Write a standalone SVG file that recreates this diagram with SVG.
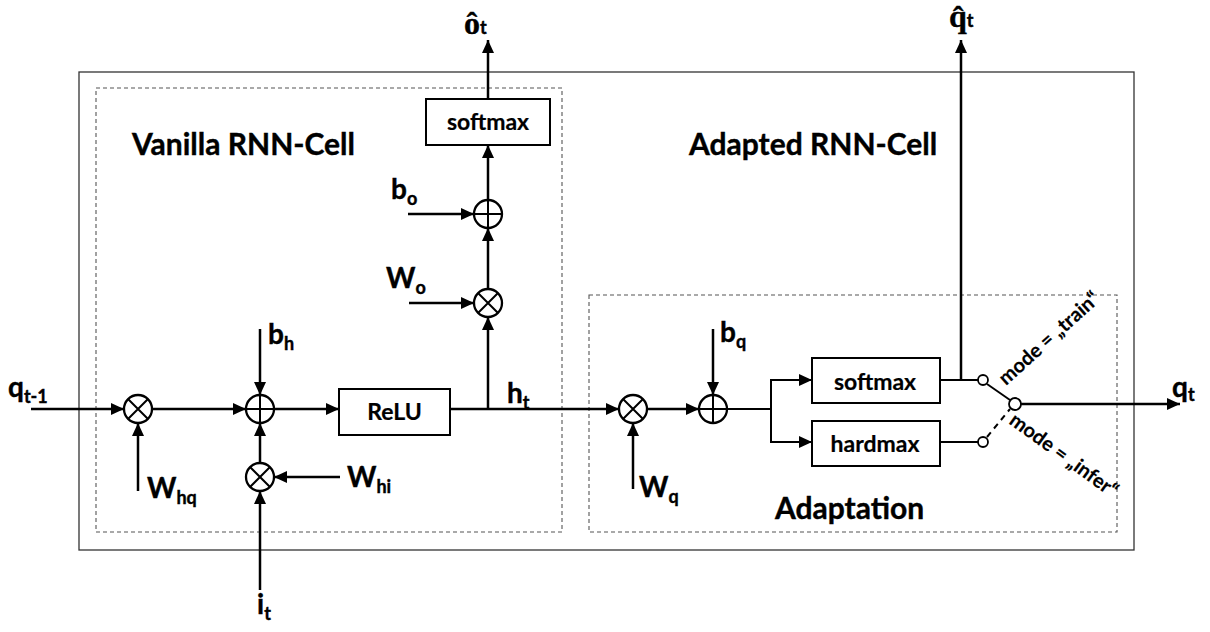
<svg xmlns="http://www.w3.org/2000/svg" width="1210" height="632" viewBox="0 0 1210 632">
<style>
.frame{fill:none;stroke:#333;stroke-width:1.3}
.dash{fill:none;stroke:#555;stroke-width:1.1;stroke-dasharray:4 3}
.box{fill:#fff;stroke:#000;stroke-width:2}
.op{fill:#fff;stroke:#000;stroke-width:2.3}
.c{fill:none;stroke:#000;stroke-width:2.5}
.arr{marker-end:url(#ah)}
.thin{fill:none;stroke:#000;stroke-width:2}
.sw{fill:#fff;stroke:#000;stroke-width:1.8}
text{font-family:Lato,"Liberation Sans",sans-serif;font-weight:bold;fill:#000;stroke:#000;stroke-width:0.4}
.lbl{font-size:28px}
.sub{font-size:18px}
.title{font-size:30px}
.bt{font-size:23px;text-anchor:middle;stroke-width:0.2}
.mode{font-size:20px;stroke-width:0.2}
.hat{font-family:"Liberation Serif","DejaVu Serif",serif;font-size:32px}
.hs{font-family:Lato,sans-serif;font-size:18px}
</style>
<defs>
<marker id="ah" markerWidth="14" markerHeight="12" refX="13" refY="6" orient="auto" markerUnits="userSpaceOnUse">
<path d="M0,0 L13,6 L0,12 Z" fill="#000"/>
</marker>
</defs>

<g id="frames">
<rect class="frame" x="79" y="72" width="1055" height="478"/>
<rect class="dash" x="96" y="88" width="466" height="444"/>
<rect class="dash" x="589" y="295" width="528" height="237"/>
</g>

<g id="titles">
<text class="title" x="132" y="155">Vanilla RNN-Cell</text>
<text class="title" x="689" y="155">Adapted RNN-Cell</text>
<text class="title" x="775" y="519">Adaptation</text>
</g>

<g id="connectors">
<line class="c arr" x1="31" y1="409" x2="124" y2="409"/>
<line class="c arr" x1="152" y1="409" x2="246" y2="409"/>
<line class="c arr" x1="138" y1="491" x2="138" y2="423"/>
<line class="c arr" x1="260" y1="329" x2="260" y2="395"/>
<line class="c arr" x1="260" y1="463" x2="260" y2="423"/>
<line class="c arr" x1="340" y1="477" x2="274" y2="477"/>
<line class="c arr" x1="260" y1="590" x2="260" y2="491"/>
<line class="c arr" x1="274" y1="409" x2="339" y2="409"/>
<line class="c arr" x1="450" y1="409" x2="619" y2="409"/>
<line class="c arr" x1="488" y1="409" x2="488" y2="317"/>
<line class="c arr" x1="409" y1="303" x2="474" y2="303"/>
<line class="c arr" x1="488" y1="289" x2="488" y2="228"/>
<line class="c arr" x1="408" y1="214" x2="474" y2="214"/>
<line class="c arr" x1="488" y1="200" x2="488" y2="145"/>
<line class="c arr" x1="488" y1="99" x2="488" y2="40"/>
<line class="c arr" x1="633" y1="489" x2="633" y2="423"/>
<line class="c arr" x1="647" y1="409" x2="699" y2="409"/>
<line class="c arr" x1="713" y1="329" x2="713" y2="395"/>
<polyline class="thin" points="727,409 771,409"/>
<polyline class="thin" points="771,380 771,442"/>
<line class="thin arr" x1="770" y1="380" x2="812" y2="380"/>
<line class="thin arr" x1="770" y1="442" x2="812" y2="442"/>
<line class="thin" x1="940" y1="380" x2="978" y2="380"/>
<line class="c arr" x1="961" y1="380" x2="961" y2="40"/>
<line class="thin" x1="940" y1="442" x2="978" y2="442"/>
<line class="thin" x1="987" y1="384" x2="1010" y2="400"/>
<line class="thin" x1="987" y1="437" x2="1010" y2="409" stroke-dasharray="6 5"/>
<line class="c arr" x1="1021" y1="404" x2="1180" y2="404"/>
</g>

<g id="mul_hq">
<circle class="op" cx="138" cy="409" r="14"/>
<path class="thin" d="M128,399 L148,419 M148,399 L128,419"/>
</g>
<g id="add_h">
<circle class="op" cx="260" cy="409" r="14"/>
<path class="thin" d="M246,409 H274 M260,395 V423"/>
</g>
<g id="mul_hi">
<circle class="op" cx="260" cy="477" r="14"/>
<path class="thin" d="M250,467 L270,487 M270,467 L250,487"/>
</g>
<g id="relu">
<rect class="box" x="339" y="389" width="111" height="46"/>
<text class="bt" x="394.5" y="420">ReLU</text>
</g>
<g id="mul_o">
<circle class="op" cx="488" cy="303" r="14"/>
<path class="thin" d="M478,293 L498,313 M498,293 L478,313"/>
</g>
<g id="add_o">
<circle class="op" cx="488" cy="214" r="14"/>
<path class="thin" d="M474,214 H502 M488,200 V228"/>
</g>
<g id="softmax_o">
<rect class="box" x="426" y="99" width="124" height="46"/>
<text class="bt" x="488" y="130">softmax</text>
</g>
<g id="mul_q">
<circle class="op" cx="633" cy="409" r="14"/>
<path class="thin" d="M623,399 L643,419 M643,399 L623,419"/>
</g>
<g id="add_q">
<circle class="op" cx="713" cy="409" r="14"/>
<path class="thin" d="M699,409 H727 M713,395 V423"/>
</g>
<g id="softmax_q">
<rect class="box" x="812" y="358" width="128" height="45"/>
<text class="bt" x="875" y="390">softmax</text>
</g>
<g id="hardmax_q">
<rect class="box" x="812" y="421" width="128" height="45"/>
<text class="bt" x="875" y="452">hardmax</text>
</g>
<g id="switch">
<circle class="sw" cx="983" cy="380" r="5"/>
<circle class="sw" cx="983" cy="442" r="5"/>
<circle class="sw" cx="1015" cy="404" r="6"/>
<text class="mode" transform="translate(1006,386) rotate(-42)">mode = „train“</text>
<text class="mode" transform="translate(1008,423) rotate(36)">mode = „infer“</text>
</g>

<g id="labels">
<text class="lbl" x="8" y="397">q<tspan class="sub" dy="6">t-1</tspan></text>
<text class="lbl" x="147" y="498">W<tspan class="sub" dy="6">hq</tspan></text>
<text class="lbl" x="268" y="344">b<tspan class="sub" dy="6">h</tspan></text>
<text class="lbl" x="347" y="487">W<tspan class="sub" dy="6">hi</tspan></text>
<text class="lbl" x="257" y="614">i<tspan class="sub" dy="6">t</tspan></text>
<text class="lbl" x="391" y="199">b<tspan class="sub" dy="6">o</tspan></text>
<text class="lbl" x="386" y="288">W<tspan class="sub" dy="6">o</tspan></text>
<text class="lbl" x="507" y="403">h<tspan class="sub" dy="6">t</tspan></text>
<text class="lbl" x="720" y="342">b<tspan class="sub" dy="6">q</tspan></text>
<text class="lbl" x="639" y="497">W<tspan class="sub" dy="6">q</tspan></text>
<text class="lbl" x="1172" y="397">q<tspan class="sub" dy="4">t</tspan></text>
<text class="hat" x="464" y="34">ô<tspan class="hs">t</tspan></text>
<text class="hat" x="949" y="27">q̂<tspan class="hs">t</tspan></text>
</g>
</svg>
